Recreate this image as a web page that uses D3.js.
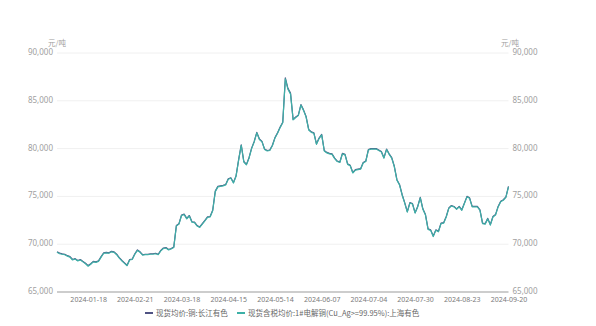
<!DOCTYPE html>
<html>
<head>
<meta charset="utf-8">
<script src="https://cdn.jsdelivr.net/npm/d3@7"></script>
<style>
  html, body { margin: 0; padding: 0; background: #fff; }
  svg { display: block; font-family: "Noto Sans CJK SC", "Noto Sans", sans-serif; }
</style>
</head>
<body>
<svg id="chart" width="596" height="326"></svg>
<script>
// Trading-day index of each x-axis label, and the label text
const tickIndex = [12, 30, 48, 66, 84, 102, 120, 138, 156, 174];
const tickLabels = ["2024-01-18", "2024-02-21", "2024-03-18", "2024-04-15", "2024-05-14",
                    "2024-06-07", "2024-07-04", "2024-07-30", "2024-08-23", "2024-09-20"];
const yTicks = [65000, 70000, 75000, 80000, 85000, 90000];

const seriesNames = ["现货均价:铜:长江有色", "现货含税均价:1#电解铜(Cu_Ag>=99.95%):上海有色"];

// 现货均价:铜:长江有色 (元/吨), one value per trading day from 2024-01-02
const changjiang = [
  69200, 69080, 68990, 68940, 68800, 68700, 68400, 68490, 68300, 68400,
  68200, 68000, 67760, 67950, 68200, 68150, 68250, 68700, 69100, 69150,
  69100, 69250, 69200, 68950, 68600, 68300, 68050, 67800, 68400, 68450,
  69000, 69400, 69200, 68900, 68950, 68950, 69000, 69000, 69050, 68950,
  69350, 69600, 69650, 69450, 69550, 69700, 71950, 72150, 73050, 73150,
  72700, 73000, 72350, 72300, 71950, 71800, 72150, 72500, 72850, 72900,
  73550, 75550, 76050, 76100, 76150, 76250, 76850, 76950, 76450, 77150,
  78850, 80400, 78650, 78350, 79050, 80050, 80750, 81700, 81000, 80750,
  79950, 79800, 79850, 80350, 81150, 81650, 82250, 82750, 87400, 86300,
  85800, 83050, 83300, 83500, 84600, 84050, 83350, 82000, 81750, 81650,
  80500, 81100, 81480, 79800, 79600, 79500, 79450, 79000, 78700, 78600,
  79500, 79400, 78400, 78250, 77500, 77800, 77850, 77900, 78550, 78700,
  79900, 80000, 80000, 80000, 79850, 79700, 79050, 79950, 79450, 79050,
  78150, 76750, 76250, 75200, 74350, 73400, 74350, 74250, 73300, 73950,
  74900, 73700, 73100, 71600, 71500, 70850, 71500, 71350, 72200, 72250,
  72900, 73800, 74050, 73950, 73700, 73950, 73600, 74300, 75000, 74850,
  73950, 73950, 73950, 73600, 72200, 72150, 72700, 72050, 72900, 73100,
  73950, 74500, 74650, 74950, 76050
];

// 现货含税均价:1#电解铜(Cu_Ag>=99.95%):上海有色 (元/吨)
const shanghai = [
  69150, 69000, 68950, 68900, 68750, 68650, 68350, 68450, 68250, 68350,
  68150, 67950, 67700, 67900, 68150, 68100, 68200, 68650, 69050, 69100,
  69050, 69200, 69150, 68900, 68550, 68250, 68000, 67750, 68350, 68400,
  68950, 69350, 69150, 68850, 68900, 68900, 68950, 68950, 69000, 68900,
  69300, 69550, 69600, 69400, 69500, 69650, 71900, 72100, 73000, 73100,
  72650, 72950, 72300, 72250, 71900, 71750, 72100, 72450, 72800, 72850,
  73500, 75500, 76000, 76050, 76100, 76200, 76800, 76900, 76400, 77100,
  78800, 80350, 78600, 78300, 79000, 80000, 80700, 81650, 80950, 80700,
  79900, 79750, 79800, 80300, 81100, 81600, 82200, 82700, 87300, 86200,
  85700, 83000, 83250, 83450, 84550, 84000, 83300, 81950, 81700, 81600,
  80450, 81050, 81430, 79750, 79550, 79450, 79400, 78950, 78650, 78550,
  79450, 79350, 78350, 78200, 77450, 77750, 77800, 77850, 78500, 78650,
  79850, 79950, 79950, 79950, 79800, 79650, 79000, 79900, 79400, 79000,
  78100, 76700, 76200, 75150, 74300, 73350, 74300, 74200, 73250, 73900,
  74850, 73650, 73050, 71550, 71450, 70800, 71450, 71300, 72150, 72200,
  72850, 73750, 74000, 73900, 73650, 73900, 73550, 74250, 74950, 74800,
  73900, 73900, 73900, 73550, 72150, 72100, 72650, 72000, 72850, 73050,
  73900, 74450, 74600, 74900, 76000
];

const colors = ["#4f5283", "#3db0a7"];

const svg = d3.select("#chart");
const margin = { left: 57, right: 87.5, top: 53, bottom: 34 };
const W = 596, H = 326;

const x = d3.scaleLinear()
  .domain([0, shanghai.length - 1])
  .range([margin.left, W - margin.right]);
const y = d3.scaleLinear()
  .domain([65000, 90000])
  .range([H - margin.bottom, margin.top]);

const fmt = d3.format(",");

// horizontal grid lines
svg.append("g")
  .selectAll("line")
  .data(yTicks.slice(1))
  .join("line")
  .attr("x1", margin.left).attr("x2", W - margin.right)
  .attr("y1", d => y(d)).attr("y2", d => y(d))
  .attr("stroke", "#f0f0f0").attr("stroke-width", 1);

// left value axis
const yLeft = svg.append("g")
  .attr("transform", `translate(${margin.left - 4},-1)`)
  .call(d3.axisLeft(y).tickValues(yTicks).tickFormat(fmt).tickSize(0).tickPadding(0));
yLeft.select(".domain").remove();
yLeft.selectAll("text").attr("fill", "#a0a0a0").style("font-size", "8px")
  .style("font-family", "'Noto Sans', sans-serif");

// right value axis
const yRight = svg.append("g")
  .attr("transform", `translate(${W - margin.right + 4},-1)`)
  .call(d3.axisRight(y).tickValues(yTicks).tickFormat(fmt).tickSize(0).tickPadding(0));
yRight.select(".domain").remove();
yRight.selectAll("text").attr("fill", "#a0a0a0").style("font-size", "8px")
  .style("font-family", "'Noto Sans', sans-serif");

// unit captions
svg.append("text").attr("x", 57).attr("y", 46).attr("text-anchor", "middle")
  .attr("fill", "#a0a0a0").style("font-size", "7.5px").text("元/吨");
svg.append("text").attr("x", 510).attr("y", 46).attr("text-anchor", "middle")
  .attr("fill", "#a0a0a0").style("font-size", "7.5px").text("元/吨");

// category axis along the bottom
const xAxis = svg.append("g")
  .attr("transform", `translate(0,${y(65000)})`)
  .call(d3.axisBottom(x).tickValues(tickIndex).tickFormat((d, i) => tickLabels[i]).tickSize(0).tickPadding(5));
xAxis.select(".domain").remove();
xAxis.selectAll("text").attr("fill", "#7a7a7a").style("font-size", "7px")
  .style("font-family", "'Noto Sans', sans-serif");
svg.append("line")
  .attr("x1", margin.left).attr("x2", W - margin.right)
  .attr("y1", y(65000)).attr("y2", y(65000))
  .attr("stroke", "#bdbdbd").attr("stroke-width", 1.5);

// price lines
const line = d3.line().x((d, i) => x(i)).y(d => y(d));
[changjiang, shanghai].forEach((s, k) => {
  svg.append("path")
    .datum(s)
    .attr("d", line)
    .attr("fill", "none")
    .attr("stroke", colors[k])
    .attr("stroke-width", 1.2)
    .attr("stroke-linejoin", "round");
});

// legend
const legendY = 313;
const legendX = [145, 237];
seriesNames.forEach((name, k) => {
  const g = svg.append("g").attr("transform", `translate(${legendX[k]},${legendY})`);
  g.append("line").attr("x1", 0).attr("x2", 8).attr("y1", 0).attr("y2", 0)
    .attr("stroke", colors[k]).attr("stroke-width", 2);
  g.append("text").attr("x", 11).attr("y", 0).attr("dy", "0.35em")
    .attr("fill", "#666").style("font-size", "7.5px").text(name);
});
</script>
</body>
</html>
